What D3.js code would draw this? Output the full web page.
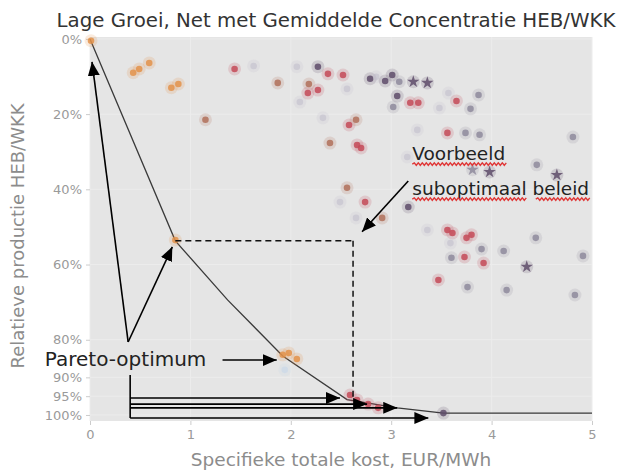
<!DOCTYPE html>
<html>
<head>
<meta charset="utf-8">
<script src="https://cdn.jsdelivr.net/npm/d3@7"></script>
<style>
body { margin: 0; background: #fff; }
svg text { font-family: "DejaVu Sans", sans-serif; }
</style>
</head>
<body>
<div id="chart"></div>
<script>

// scenario's: kost (EUR/MWh) en relatieve productie HEB/WKK (%)
var kost = [0.01, 0.43, 0.49, 0.59, 0.81, 0.88, 1.15, 0.85, 1.44, 1.63,
            1.87, 2.06, 2.27, 2.37, 2.52, 2.18, 2.17, 2.27, 2.56, 2.09,
            2.79, 2.85, 2.94, 3.01, 3.08, 3.22, 3.36, 3.06, 3.02, 3.19,
            3.27, 2.32, 2.58, 2.65, 3.26, 3.57, 3.65, 3.87, 3.48, 3.79,
            3.56, 3.74, 3.88, 4.81, 2.39, 2.66, 2.70, 2.56, 2.49, 2.74,
            2.91, 2.65, 3.17, 3.81, 3.98, 4.45, 4.65, 3.36, 3.56, 3.61,
            3.75, 3.80, 3.59, 3.90, 4.12, 4.44, 3.60, 3.73, 3.92, 4.35,
            4.91, 3.47, 3.76, 4.15, 4.83, 1.92, 1.98, 2.06, 1.94, 2.59,
            2.66, 2.77, 2.87, 3.52, 3.16];
var productie = [0.5, 9.0, 8.0, 6.4, 13.0, 12.0, 21.5, 53.5, 8.0, 7.2,
                 11.7, 7.4, 7.4, 9.3, 9.6, 12.0, 14.4, 13.6, 13.3, 16.8,
                 10.6, 10.1, 11.2, 9.6, 11.4, 11.4, 11.7, 15.2, 18.1, 17.0,
                 17.0, 21.0, 22.9, 21.5, 24.2, 14.4, 16.5, 14.9, 18.4, 18.6,
                 25.0, 25.0, 25.5, 26.1, 27.7, 28.2, 29.0, 39.6, 43.4, 43.4,
                 47.6, 47.6, 44.7, 34.8, 35.4, 33.5, 36.2, 50.8, 50.8, 51.6,
                 52.9, 52.1, 54.3, 55.9, 56.4, 52.9, 58.2, 58.0, 59.6, 60.6,
                 57.7, 64.1, 66.0, 66.8, 68.1, 84.0, 83.5, 85.1, 88.0, 94.7,
                 96.0, 97.1, 98.1, 99.5, 31.4];
var reeks = ["oranje", "oranje", "oranje", "oranje", "oranje", "oranje", "bruin", "oranje", "rood", "vaag",
             "bruin", "vaag", "paars", "rood", "rood", "bruin", "rood", "rood", "vaag", "vaag",
             "paars", "vaag", "paars", "paars", "grijs", "paars-ster", "paars-ster", "paars", "grijs", "rood",
             "rood", "vaag", "rood", "bruin", "vaag", "vaag", "rood", "grijs", "vaag", "grijs",
             "rood", "grijs", "grijs", "grijs", "bruin", "rood", "rood", "bruin", "vaag", "rood",
             "bruin", "vaag", "paars", "grijs-ster", "paars-ster", "grijs", "paars-ster", "vaag", "rood", "rood",
             "rood", "rood", "vaag", "grijs", "grijs", "grijs", "grijs", "rood", "rood", "paars-ster",
             "grijs", "rood", "grijs", "grijs", "grijs", "oranje", "oranje", "oranje", "blauw", "rood",
             "rood", "rood", "rood", "paars", "vaag"];

// pareto-front
var paretoKost = [0, 0.85, 1.37, 1.92, 2.56, 3.06, 3.52, 5];
var paretoProd = [0, 53.7, 69.4, 84.3, 95.9, 98.1, 99.5, 99.5];

var xTicks = [0, 1, 2, 3, 4, 5];
var yTicks = [0, 20, 40, 60, 80, 90, 95, 100];

// annotaties in datacoordinaten: [x1, y1, x2, y2]
var pijlen = [[0.38, 80.6, 0.02, 6.1],
              [0.38, 80.6, 0.82, 55.3],
              [1.32, 85.4, 1.86, 85.4],
              [3.17, 37.8, 2.71, 51.3],
              [0.40, 95.5, 2.49, 95.5],
              [0.40, 97.1, 2.76, 97.1],
              [0.40, 98.1, 3.06, 98.1],
              [0.40, 100.8, 3.37, 100.8]];
var streepjes = [[0.85, 53.7, 2.62, 53.7],
                 [2.62, 53.7, 2.62, 95.5]];
var haak = [0.40, 89.4, 0.40, 100.8];

var w = 629,
    h = 470;

var x = d3.scaleLinear().domain([0, 5]).range([90, 592]);
var y = d3.scaleLinear().domain([-0.5, 101.6]).range([37, 421]);

var kleur = d3.scaleOrdinal()
    .domain(["oranje", "bruin", "rood", "paars", "paars-ster", "grijs", "grijs-ster", "vaag", "blauw"])
    .range(["#e3924a", "#b0705a", "#c44a58", "#5e4c6a", "#5e4c6a", "#8e8a9c", "#8e8a9c", "#c0bccb", "#c4d6ea"]);

var svg = d3.select("#chart")
    .append("svg")
    .attr("width", w)
    .attr("height", h);

var defs = svg.append("defs");
defs.append("marker")
    .attr("id", "pijl")
    .attr("markerUnits", "userSpaceOnUse")
    .attr("viewBox", "0 0 14 12")
    .attr("markerWidth", 14)
    .attr("markerHeight", 12)
    .attr("refX", 14)
    .attr("refY", 6)
    .attr("orient", "auto")
    .append("path")
    .attr("d", "M0,0 L14,6 L0,12 Z")
    .attr("fill", "#000");

// achtergrond
svg.append("rect")
    .attr("x", x(0))
    .attr("y", y.range()[0])
    .attr("width", x(5) - x(0))
    .attr("height", y.range()[1] - y.range()[0])
    .attr("fill", "#e5e5e5");

// rasterlijnen
svg.selectAll("line.vgrid")
    .data(xTicks)
    .enter()
    .append("line")
    .attr("class", "vgrid")
    .attr("x1", function(d) { return x(d); })
    .attr("x2", function(d) { return x(d); })
    .attr("y1", y.range()[0])
    .attr("y2", y.range()[1])
    .style("stroke", "#ececec")
    .style("stroke-width", 1);

svg.selectAll("line.hgrid")
    .data(yTicks)
    .enter()
    .append("line")
    .attr("class", "hgrid")
    .attr("x1", x(0))
    .attr("x2", x(5))
    .attr("y1", function(d) { return y(d); })
    .attr("y2", function(d) { return y(d); })
    .style("stroke", "#ececec")
    .style("stroke-width", 1);

// assen
var xAxis = svg.append("g")
    .attr("transform", "translate(0," + y.range()[1] + ")")
    .call(d3.axisBottom(x).tickValues(xTicks).tickFormat(d3.format("d")).tickSize(4).tickPadding(5));
var yAxis = svg.append("g")
    .attr("transform", "translate(" + x(0) + ",0)")
    .call(d3.axisLeft(y).tickValues(yTicks).tickFormat(function(d) { return d + "%"; }).tickSize(4).tickPadding(4));

[xAxis, yAxis].forEach(function(a) {
    a.select(".domain").remove();
    a.selectAll(".tick line").style("stroke", "#ccc");
    a.selectAll(".tick text")
        .style("fill", "#9a9a9a")
        .style("font-size", "13px")
        .style("font-family", "DejaVu Sans, sans-serif");
});

// pareto lijn
var lijn = d3.line()
    .x(function(d) { return x(d[0]); })
    .y(function(d) { return y(d[1]); });

svg.append("path")
    .datum(d3.zip(paretoKost, paretoProd))
    .attr("d", lijn)
    .attr("fill", "none")
    .style("stroke", "#3a3a3a")
    .style("stroke-width", 1.3);

// punten
var punten = d3.range(kost.length).map(function(i) {
    return { 'x': kost[i], 'y': productie[i], 'r': reeks[i] };
});

var ster = d3.symbol().type(d3.symbolStar).size(48);
var rondje = d3.symbol().type(d3.symbolCircle).size(34);

svg.selectAll("circle.halo")
    .data(punten)
    .enter()
    .append("circle")
    .attr("class", "halo")
    .attr("cx", function(d) { return x(d.x); })
    .attr("cy", function(d) { return y(d.y); })
    .attr("r", 6.5)
    .style("fill", function(d) { return kleur(d.r); })
    .style("opacity", 0.18);

svg.selectAll("path.punt")
    .data(punten)
    .enter()
    .append("path")
    .attr("class", "punt")
    .attr("transform", function(d) { return "translate(" + x(d.x) + "," + y(d.y) + ")"; })
    .attr("d", function(d) { return d.r.indexOf("ster") > 0 ? ster() : rondje(); })
    .style("fill", function(d) { return kleur(d.r); })
    .style("opacity", function(d) { return d.r == "vaag" || d.r == "blauw" ? 0.55 : 0.85; });

// stippellijnen
svg.selectAll("line.stippel")
    .data(streepjes)
    .enter()
    .append("line")
    .attr("class", "stippel")
    .attr("x1", function(d) { return x(d[0]); })
    .attr("y1", function(d) { return y(d[1]); })
    .attr("x2", function(d) { return x(d[2]); })
    .attr("y2", function(d) { return y(d[3]); })
    .style("stroke", "#111")
    .style("stroke-width", 1.5)
    .style("stroke-dasharray", "6,4");

// pijlen
svg.append("line")
    .attr("x1", x(haak[0]))
    .attr("y1", y(haak[1]))
    .attr("x2", x(haak[2]))
    .attr("y2", y(haak[3]))
    .style("stroke", "#000")
    .style("stroke-width", 1.6);

svg.selectAll("line.pijl")
    .data(pijlen)
    .enter()
    .append("line")
    .attr("class", "pijl")
    .attr("x1", function(d) { return x(d[0]); })
    .attr("y1", function(d) { return y(d[1]); })
    .attr("x2", function(d) { return x(d[2]); })
    .attr("y2", function(d) { return y(d[3]); })
    .attr("marker-end", "url(#pijl)")
    .style("stroke", "#000")
    .style("stroke-width", 1.6);

// teksten
svg.append("text")
    .attr("x", x(-0.45))
    .attr("y", y(86.9))
    .style("font-size", "20px")
    .style("fill", "#222")
    .text("Pareto-optimum");

svg.append("text")
    .attr("x", x(3.21))
    .attr("y", y(32.2))
    .style("font-size", "18.5px")
    .style("fill", "#222")
    .text("Voorbeeld");

svg.append("text")
    .attr("x", x(3.21))
    .attr("y", y(41.5))
    .style("font-size", "18.5px")
    .style("fill", "#222")
    .text("suboptimaal beleid");

// rode kronkellijnen (spellingcontrole)
function kronkel(x0, x1, yy) {
    var p = "M" + x0 + "," + yy;
    var up = true;
    for (var xx = x0 + 2; xx <= x1; xx += 2) {
        p += " L" + xx + "," + (yy + (up ? -1.2 : 1.2));
        up = !up;
    }
    return p;
}
var kronkels = [[3.21, 4.16, 33.3], [3.21, 4.36, 42.6], [4.44, 4.98, 42.6]];
svg.selectAll("path.kronkel")
    .data(kronkels)
    .enter()
    .append("path")
    .attr("class", "kronkel")
    .attr("d", function(d) { return kronkel(x(d[0]), x(d[1]), y(d[2])); })
    .attr("fill", "none")
    .style("stroke", "#e03838")
    .style("stroke-width", 1.4);

// titels
svg.append("text")
    .attr("x", 336)
    .attr("y", 27)
    .attr("text-anchor", "middle")
    .style("font-size", "19.8px")
    .style("fill", "#333")
    .text("Lage Groei, Net met Gemiddelde Concentratie HEB/WKK");

svg.append("text")
    .attr("x", 341)
    .attr("y", 466)
    .attr("text-anchor", "middle")
    .style("font-size", "18.5px")
    .style("fill", "#8c8c8c")
    .text("Specifieke totale kost, EUR/MWh");

svg.append("text")
    .attr("transform", "translate(24,236) rotate(-90)")
    .attr("text-anchor", "middle")
    .style("font-size", "18px")
    .style("fill", "#8c8c8c")
    .text("Relatieve productie HEB/WKK");

</script>
</body>
</html>
